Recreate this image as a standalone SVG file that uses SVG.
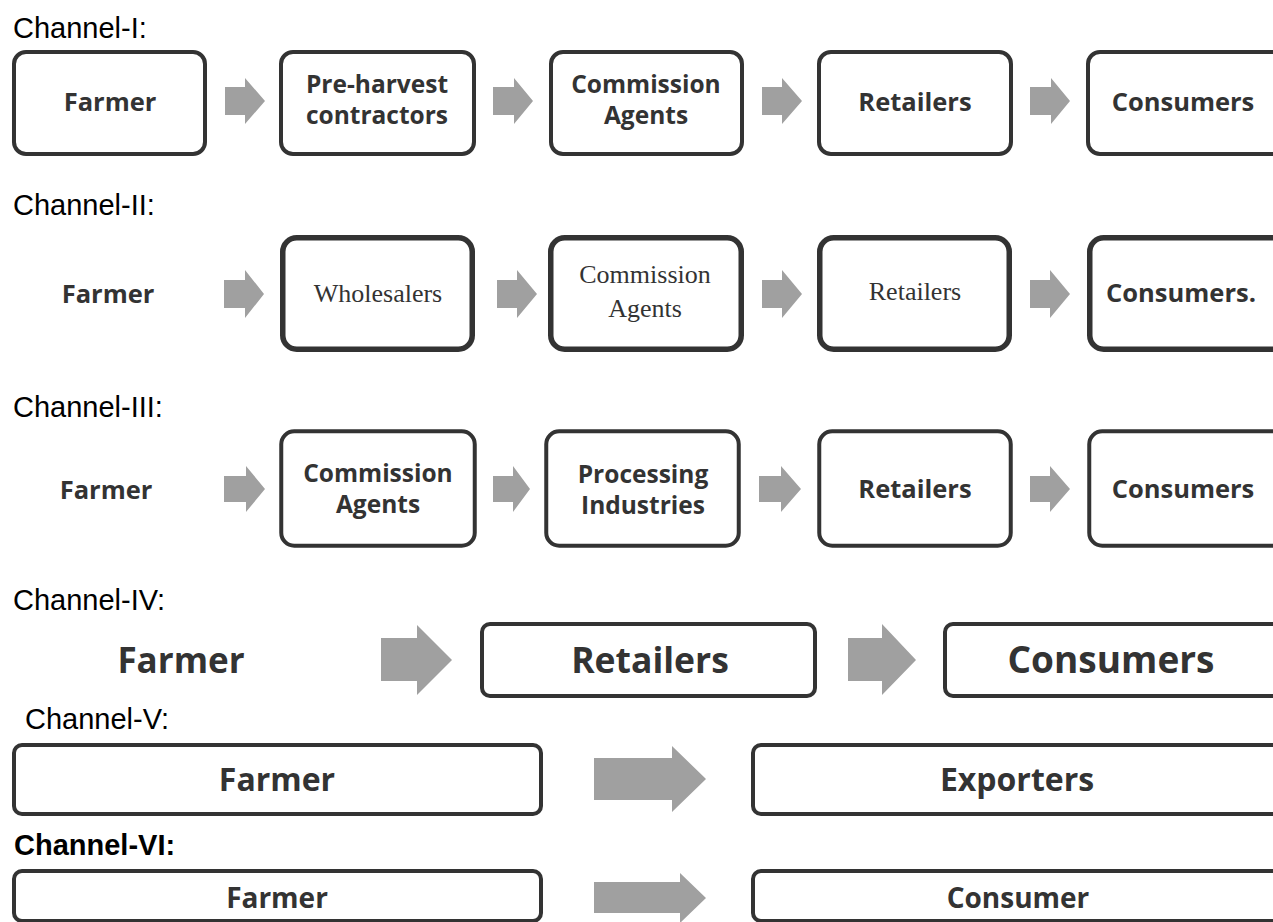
<svg xmlns="http://www.w3.org/2000/svg" width="1273" height="922" viewBox="0 0 1273 922">
<style>
.lbl{font-family:"Liberation Sans",Arial,sans-serif;font-size:29px;fill:#000}
.lblb{font-family:"Liberation Sans",Arial,sans-serif;font-size:29px;font-weight:bold;fill:#000}
.t{font-family:"Open Sans","Noto Sans",sans-serif;font-weight:700;font-size:25.5px;fill:#333;text-anchor:middle}
.t2{font-family:"Open Sans","Noto Sans",sans-serif;font-weight:700;font-size:24.5px;fill:#333;text-anchor:middle}
.s{font-family:"Liberation Serif","Times New Roman",serif;font-size:26px;fill:#333;text-anchor:middle}
.b{fill:#fff;stroke:#333;stroke-width:4}
.b2{fill:#fff;stroke:#333;stroke-width:5.5}
.ar{fill:#a0a0a0}
</style>
<rect width="1273" height="922" fill="#fff"/>
<g id="labels">
<text class="lbl" x="13" y="38">Channel-I:</text>
<text class="lbl" x="13" y="215">Channel-II:</text>
<text class="lbl" x="13" y="417">Channel-III:</text>
<text class="lbl" x="13" y="610">Channel-IV:</text>
<text class="lbl" x="25" y="729">Channel-V:</text>
<text class="lblb" x="14" y="855">Channel-VI:</text>
</g>
<g id="connectors">
<path class="ar" d="M225 87H245V78L265 101L245 124V115H225Z"/>
<path class="ar" d="M493 87H514V78L533 101L514 124V115H493Z"/>
<path class="ar" d="M762 87H782V78L802 101L782 124V115H762Z"/>
<path class="ar" d="M1030 87H1051V78L1070 101L1051 124V115H1030Z"/>
<path class="ar" d="M224 280H245V270L264 294L245 318V308H224Z"/>
<path class="ar" d="M497 280H517V270L537 294L517 318V308H497Z"/>
<path class="ar" d="M762 280H782V270L802 294L782 318V308H762Z"/>
<path class="ar" d="M1030 280H1050V270L1070 294L1050 318V308H1030Z"/>
<path class="ar" d="M224 476H246V466L265 489L246 512V502H224Z"/>
<path class="ar" d="M493 476H513V466L530 489L513 512V502H493Z"/>
<path class="ar" d="M759 476H781V466L801 489L781 512V502H759Z"/>
<path class="ar" d="M1030 476H1050V466L1070 489L1050 512V502H1030Z"/>
<path class="ar" d="M381 638H417V625L452 660L417 695V681H381Z"/>
<path class="ar" d="M848 638H882V624L916 660L882 695V681H848Z"/>
<path class="ar" d="M594 758H672V746L706 779L672 812V800H594Z"/>
<path class="ar" d="M594 882H680V873L706 898L680 923V913H594Z"/>
</g>
<g id="ch1-farmer"><rect class="b" x="14" y="52" width="191" height="102" rx="12"/><text class="t" x="110" y="111">Farmer</text></g>
<g id="ch1-pre"><rect class="b" x="281" y="52" width="193" height="102" rx="12"/><text class="t2" x="377" y="93">Pre-harvest</text><text class="t2" x="377" y="124">contractors</text></g>
<g id="ch1-comm"><rect class="b" x="551" y="52" width="191" height="102" rx="12"/><text class="t2" x="646" y="93">Commission</text><text class="t2" x="646" y="124">Agents</text></g>
<g id="ch1-ret"><rect class="b" x="819" y="52" width="192" height="102" rx="12"/><text class="t" x="915" y="111">Retailers</text></g>
<g id="ch1-cons"><rect class="b" x="1088" y="52" width="200" height="102" rx="12"/><text class="t" x="1183" y="111">Consumers</text></g>

<g id="ch2-farmer"><text class="t" x="108" y="303">Farmer</text></g>
<g id="ch2-whole"><rect class="b2" x="282.75" y="237.75" width="189.5" height="111.5" rx="14"/><text class="s" x="378" y="302">Wholesalers</text></g>
<g id="ch2-comm"><rect class="b2" x="550.75" y="237.75" width="190.5" height="111.5" rx="14"/><text class="s" x="645" y="283">Commission</text><text class="s" x="645" y="317">Agents</text></g>
<g id="ch2-ret"><rect class="b2" x="819.75" y="237.75" width="189.5" height="111.5" rx="14"/><text class="s" x="915" y="300">Retailers</text></g>
<g id="ch2-cons"><rect class="b2" x="1089.75" y="237.75" width="200" height="111.5" rx="14"/><text class="t" x="1181" y="302">Consumers.</text></g>

<g id="ch3-farmer"><text class="t" x="106" y="499">Farmer</text></g>
<g id="ch3-comm"><rect class="b" x="281.25" y="431.25" width="193.5" height="114.5" rx="13"/><text class="t2" x="378" y="482">Commission</text><text class="t2" x="378" y="513">Agents</text></g>
<g id="ch3-proc"><rect class="b" x="546.25" y="431.25" width="192.5" height="114.5" rx="13"/><text class="t2" x="643" y="483">Processing</text><text class="t2" x="643" y="514">Industries</text></g>
<g id="ch3-ret"><rect class="b" x="819.25" y="431.25" width="191.5" height="114.5" rx="13"/><text class="t" x="915" y="498">Retailers</text></g>
<g id="ch3-cons"><rect class="b" x="1089.25" y="431.25" width="200" height="114.5" rx="13"/><text class="t" x="1183" y="498">Consumers</text></g>

<g id="ch4-farmer"><text class="t" x="181" y="673" style="font-size:35px">Farmer</text></g>
<g id="ch4-ret"><rect class="b" x="482" y="624" width="333" height="72" rx="8"/><text class="t" x="650" y="673" style="font-size:35.5px">Retailers</text></g>
<g id="ch4-cons"><rect class="b" x="945" y="624" width="345" height="72" rx="8"/><text class="t" x="1111" y="673" style="font-size:37px">Consumers</text></g>

<g id="ch5-farmer"><rect class="b" x="14" y="745" width="527" height="69" rx="8"/><text class="t" x="277" y="791" style="font-size:32px">Farmer</text></g>
<g id="ch5-exp"><rect class="b" x="753" y="745" width="535" height="69" rx="8"/><text class="t" x="1017" y="791" style="font-size:32px">Exporters</text></g>

<g id="ch6-farmer"><rect class="b" x="14" y="871" width="527" height="50" rx="8"/><text class="t" x="277" y="908" style="font-size:28px">Farmer</text></g>
<g id="ch6-cons"><rect class="b" x="753" y="871" width="535" height="50" rx="8"/><text class="t" x="1018" y="908" style="font-size:28px">Consumer</text></g>
</svg>
